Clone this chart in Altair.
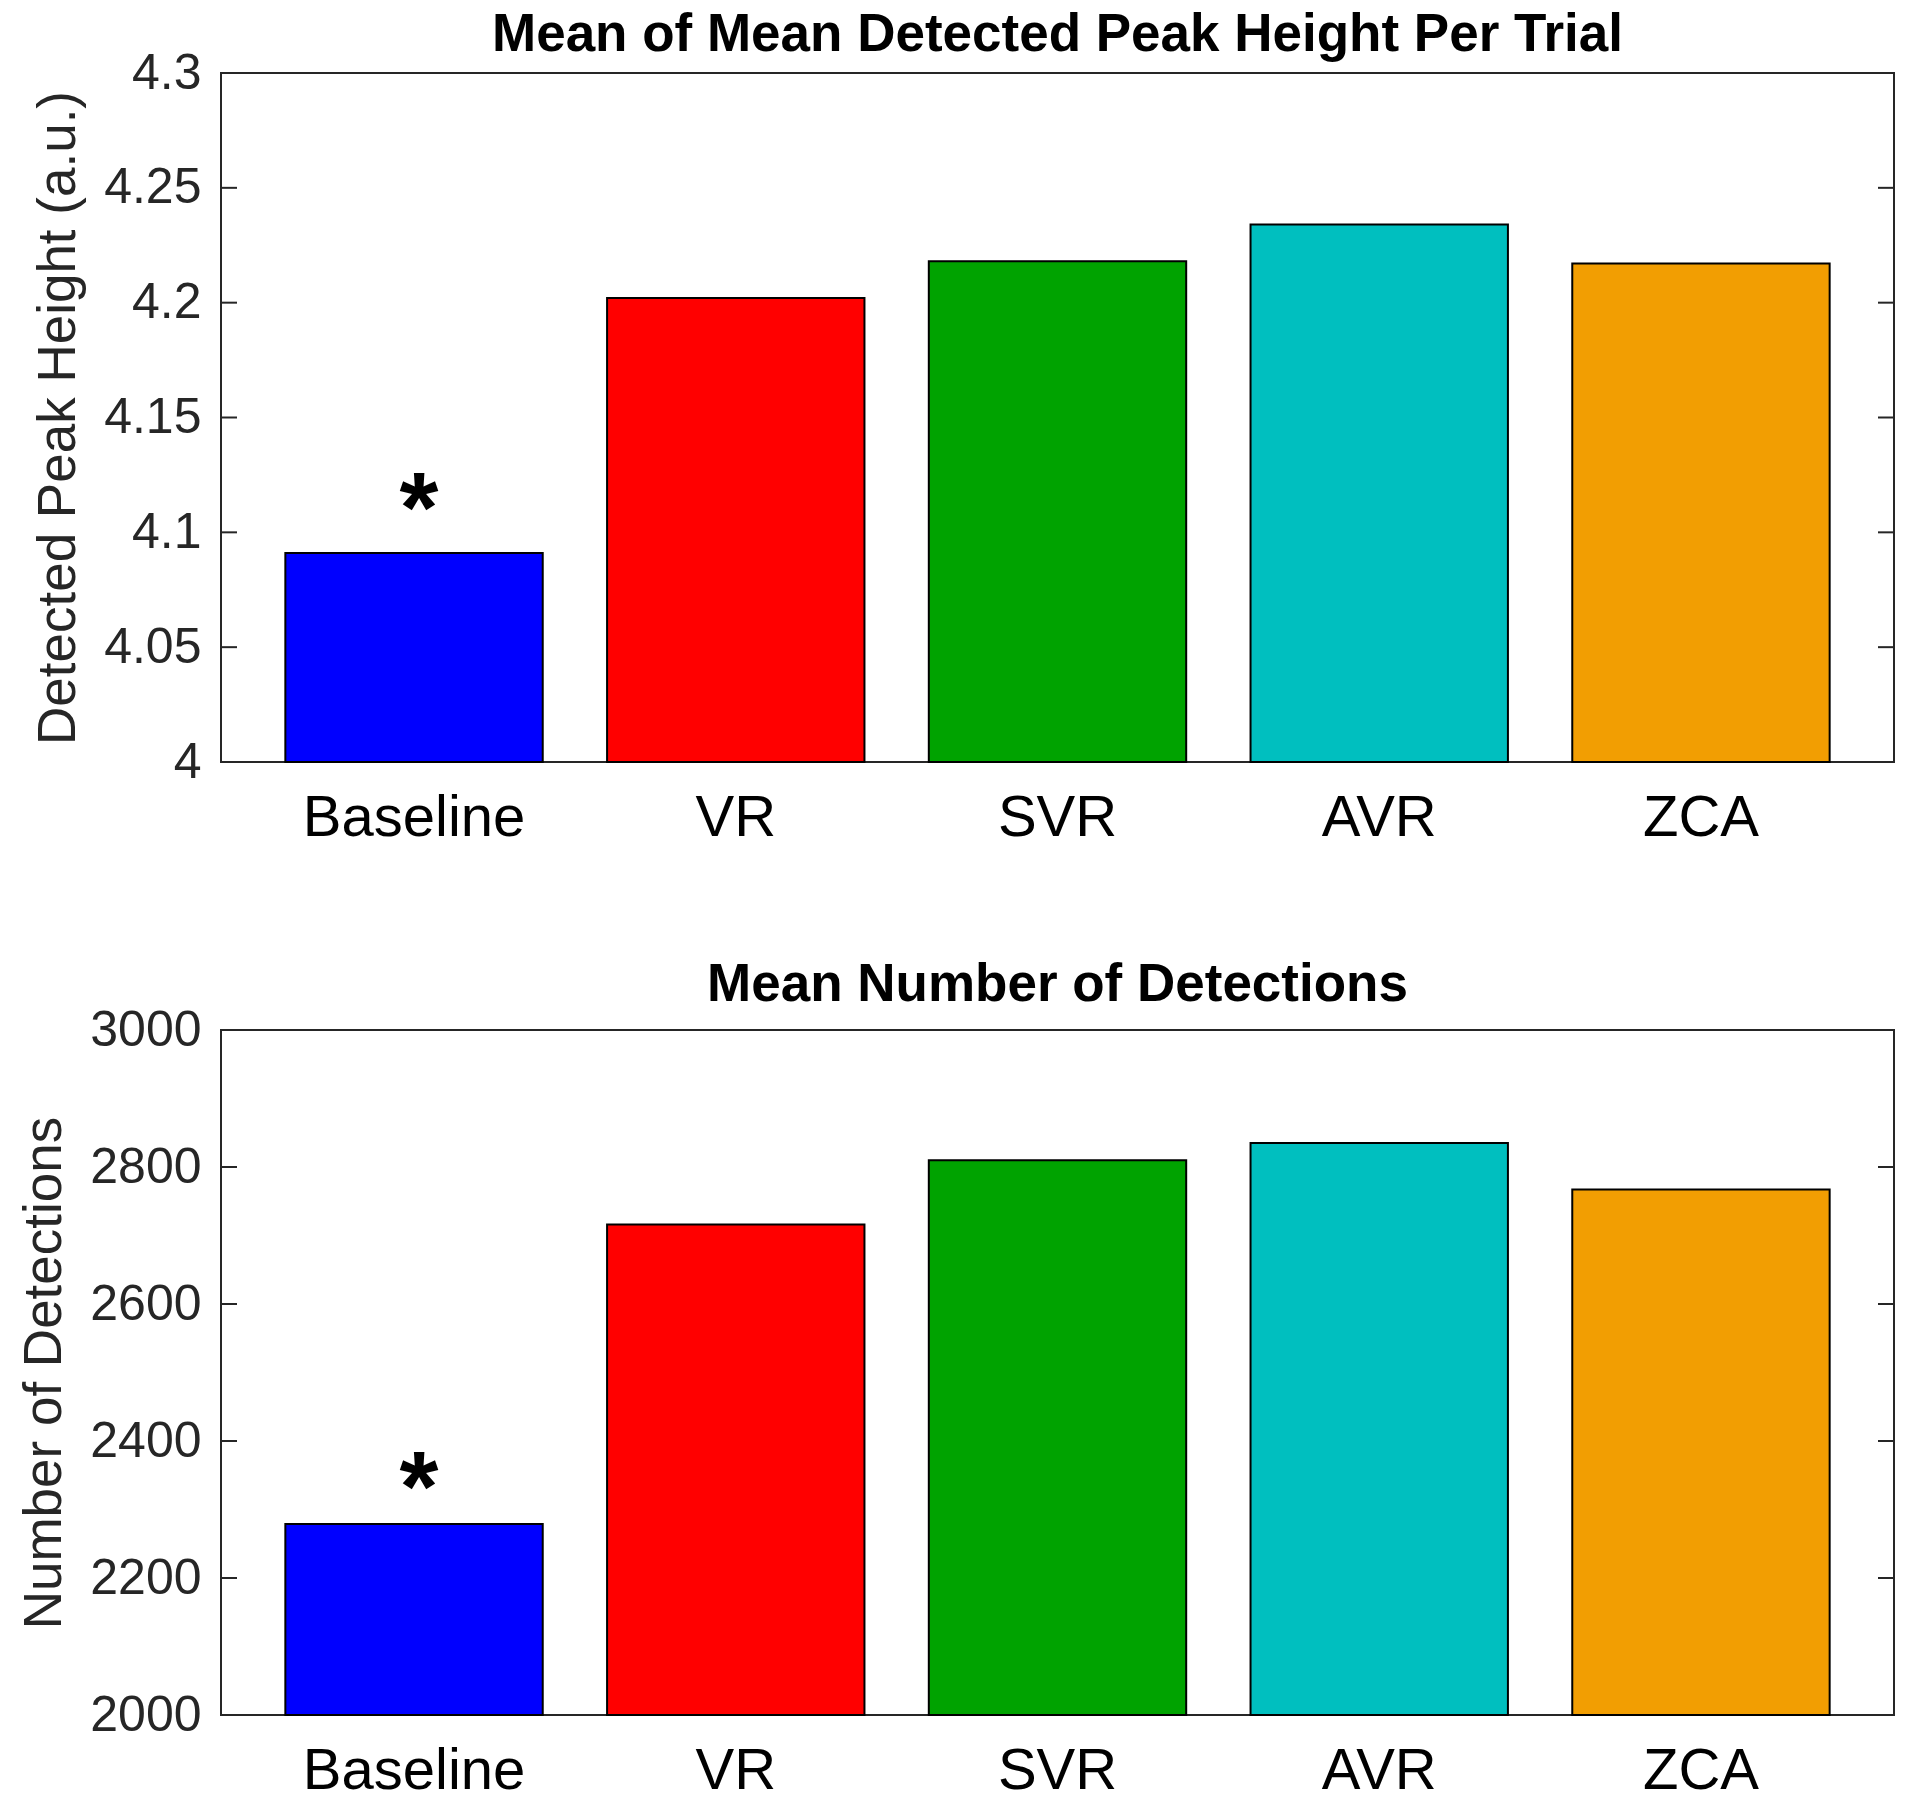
import altair as alt
import pandas as pd

categories = ["Baseline", "VR", "SVR", "AVR", "ZCA"]
peak_height = [4.091, 4.202, 4.218, 4.234, 4.217]
detections = [2279, 2716, 2810, 2835, 2767]
bar_colors = ["#0000FF", "#FF0000", "#00A300", "#00BFBF", "#F29E02"]
peak_ticks = [4.0, 4.05, 4.1, 4.15, 4.2, 4.25, 4.3]
det_ticks = [2000, 2200, 2400, 2600, 2800, 3000]
marked = ["Baseline"]

FONT = "Liberation Sans"
AXC = "#262626"
W = 1673


def panel(values, ticks, fmt, title, ytitle, h, title_offset, star_dy):
    lo, hi = ticks[0], ticks[-1]
    df = pd.DataFrame({
        "cat": categories,
        "val": values,
        "star": ["*" if c in marked else "" for c in categories],
    })
    tdf = pd.DataFrame({"t": ticks})
    x = alt.X(
        "cat:N", sort=categories,
        scale=alt.Scale(paddingInner=0.2, paddingOuter=0.2),
        axis=alt.Axis(title=None, labelAngle=0, labelFontSize=58, labelColor="black",
                      labelPadding=27, ticks=False, domain=False, labelFont=FONT,
                      labelLimit=0),
    )
    yscale = alt.Scale(domain=[lo, hi], zero=False, nice=False)
    yaxis = alt.Axis(values=ticks, format=fmt, title=ytitle, ticks=False, domain=False,
                     grid=False, labelFontSize=50, labelPadding=20, labelFont=FONT,
                     titleFont=FONT, titleFontSize=53, titleFontWeight="normal",
                     titlePadding=18, labelColor=AXC, titleColor=AXC)
    bars = alt.Chart(df).mark_bar(stroke="black", strokeWidth=2).encode(
        x=x, y=alt.Y("val:Q", scale=yscale, axis=yaxis), y2=alt.datum(lo),
        color=alt.Color("cat:N", scale=alt.Scale(domain=categories, range=bar_colors), legend=None),
    )
    stars = alt.Chart(df).mark_text(
        fontSize=100, fontWeight="bold", font=FONT, baseline="alphabetic", dy=star_dy, dx=5,
        color="black"
    ).encode(x=alt.X("cat:N", sort=categories), y=alt.Y("val:Q", scale=yscale, axis=yaxis),
             text="star:N")
    lt = alt.Chart(tdf).mark_rule(color=AXC, strokeWidth=2).encode(
        y=alt.Y("t:Q", scale=yscale, axis=yaxis), x=alt.value(0), x2=alt.value(16))
    rt = alt.Chart(tdf).mark_rule(color=AXC, strokeWidth=2).encode(
        y=alt.Y("t:Q", scale=yscale, axis=yaxis), x=alt.value(W - 16), x2=alt.value(W))
    return alt.layer(bars, stars, lt, rt).properties(
        width=W, height=h,
        title=alt.TitleParams(title, fontSize=53, fontWeight="bold", font=FONT, color="black",
                              offset=title_offset, anchor="middle"),
    )


top = panel(peak_height, peak_ticks, "~g", "Mean of Mean Detected Peak Height Per Trial",
            "Detected Peak Height (a.u.)", 689, -14, -11)
bottom = panel(detections, det_ticks, "d", "Mean Number of Detections", "Number of Detections",
               685, -7, -3)

chart = alt.vconcat(top, bottom, spacing=110).properties(
    padding={"left": 9, "top": 0, "right": 0, "bottom": 0}, background="white"
).configure_view(stroke=AXC, strokeWidth=2)

chart.save("out.html", embed_options={"renderer": "svg", "actions": False})
